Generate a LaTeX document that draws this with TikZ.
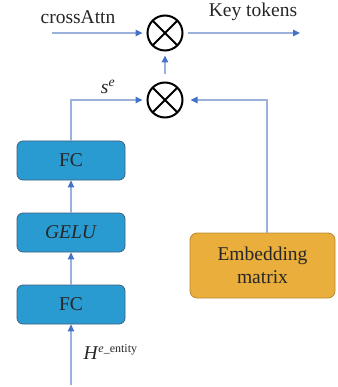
\documentclass[tikz,border=0pt]{standalone}
\usepackage{fontspec}
\setmainfont{Liberation Serif}
\usepackage{tikz}
\usetikzlibrary{arrows.meta}
\definecolor{fcblue}{HTML}{2A9BD0}
\definecolor{fcedge}{HTML}{3F5E80}
\definecolor{embfill}{HTML}{E9AE3B}
\definecolor{embedge}{HTML}{B98A35}
\definecolor{linkblue}{HTML}{9AB1DC}
\definecolor{tipblue}{HTML}{4472C4}
\tikzstyle{layer} = [rectangle, rounded corners=6pt, minimum width=108pt, minimum height=39pt, text centered, draw=fcedge, line width=0.8pt, fill=fcblue]
\tikzstyle{matrixbox} = [rectangle, rounded corners=7pt, minimum width=145pt, minimum height=65pt, text centered, align=center, draw=embedge, line width=0.8pt, fill=embfill]
\tikzstyle{mult} = [circle, draw=black, line width=2pt, minimum size=35pt, inner sep=0pt, outer sep=5pt, path picture={\draw[line width=2pt] (path picture bounding box.north west) -- (path picture bounding box.south east) (path picture bounding box.north east) -- (path picture bounding box.south west);}]
\tikzstyle{arrow} = [line width=1.1pt, draw=linkblue, -{Triangle[length=7pt,width=6.5pt,color=tipblue]}]

\begin{document}
\begin{tikzpicture}[x=1pt, y=1pt, node distance=72pt, font=\fontsize{19.5}{23}\selectfont, text=black!85]
\useasboundingbox (0,0) rectangle (337,-387);

% multipliers
\node (mulout) [mult] at (165,-33) {};
\node (mulse) [mult] at (165,-100) {};

% FC - GELU - FC stack
\node (fctop) [layer] at (71,-160.5) {FC};
\node (gelu) [layer, below of=fctop] {\textit{GELU}};
\node (fcbot) [layer, below of=gelu] {FC};

\node (emb) [matrixbox] at (262.5,-265.5) {Embedding\\matrix};

% free ends and labels
\coordinate (attnin) at (52,-33);
\coordinate (keyout) at (300,-33);
\coordinate (hin) at (71,-385);
\node (attnlbl) at (78,-17) {crossAttn};
\node (keylbl) at (253,-12) {Key tokens};
\node (selbl) at (108,-87) {\textit{s}\textsuperscript{\textit{e}}};
\node (hlbl) [anchor=west] at (80,-352) {\textit{H}\textsuperscript{\fontsize{12}{14}\selectfont\textit{e}\_entity}};

\draw [arrow] (attnin) -- (mulout);
\draw [arrow] (mulout) -- (keyout);
\draw [arrow, shorten <=3.5pt] (mulse) -- (mulout);
\draw [arrow] (fctop) |- (mulse);
\draw [arrow] ([xshift=4.5pt]emb.north) |- ([xshift=3pt]mulse.east);
\draw [arrow] (gelu) -- (fctop);
\draw [arrow] (fcbot) -- (gelu);
\draw [arrow] (hin) -- (fcbot);

\end{tikzpicture}
\end{document}
